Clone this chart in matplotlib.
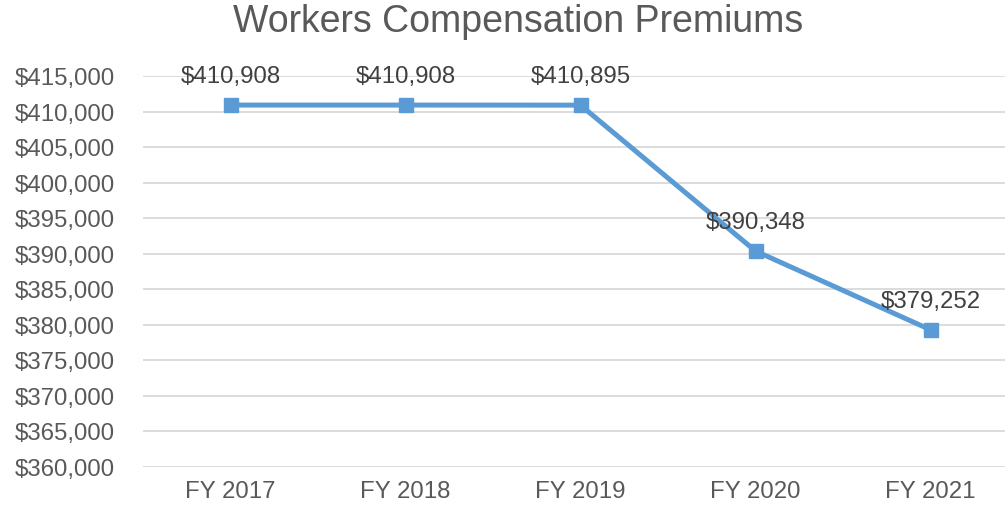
import matplotlib.pyplot as plt
from matplotlib.ticker import FuncFormatter

plt.rcParams['font.family'] = ['Liberation Sans', 'DejaVu Sans']

years = ["FY 2017", "FY 2018", "FY 2019", "FY 2020", "FY 2021"]
premiums = [410908, 410908, 410895, 390348, 379252]

fig = plt.figure(figsize=(10.05, 5.10), dpi=100)
ax = fig.add_axes([143 / 1005, 42.5 / 510, 875 / 1005, 390.5 / 510])

x = list(range(len(years)))
ax.plot(x, premiums, color='#5B9BD5', linewidth=3.6, marker='s', markersize=10.5,
        clip_on=False, zorder=3)

for xi, v in zip(x, premiums):
    ax.annotate(f"${v:,}", (xi, v), xytext=(0, 16.5), textcoords='offset points',
                ha='center', va='baseline', fontsize=17.3, color='#404040')

ax.set_xlim(-0.5, len(years) - 0.5)
ax.set_ylim(360000, 415000)
ax.set_yticks(range(360000, 415001, 5000))
ax.yaxis.set_major_formatter(FuncFormatter(lambda v, p: f"${int(v):,}"))
ax.set_xticks(x)
ax.set_xticklabels(years)

ax.grid(axis='y', color='#D9D9D9', linewidth=1.3)
ax.set_axisbelow(True)
for s in ax.spines.values():
    s.set_visible(False)
ax.tick_params(axis='both', length=0, labelsize=17.3, colors='#595959')
ax.tick_params(axis='y', pad=20)
ax.tick_params(axis='x', pad=10)

fig.text(518 / 1005, 1 - 22 / 510, "Workers Compensation Premiums", ha='center',
         va='center', fontsize=27, color='#595959')

fig.savefig('out.png', dpi=100)
